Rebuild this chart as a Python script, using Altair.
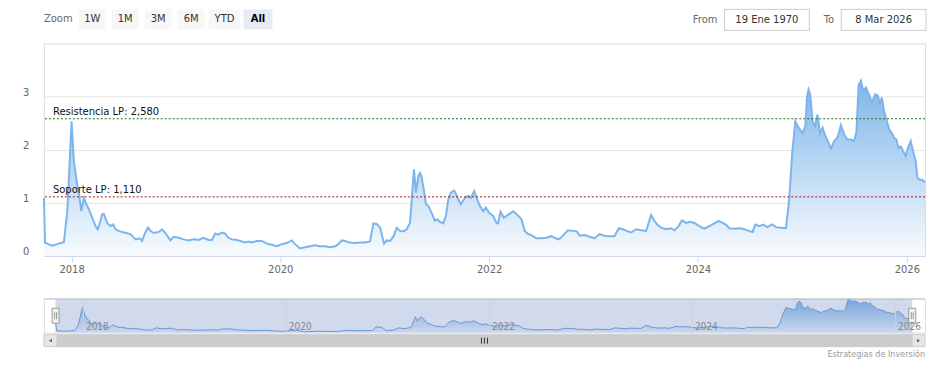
import altair as alt
import pandas as pd

# ---------------- data ----------------
T_DEC = [
    2017.735, 2017.745, 2017.768, 2017.815, 2017.863, 2017.911, 2017.926, 2017.959,
    2018.000, 2018.022, 2018.048, 2018.070, 2018.093, 2018.118, 2018.141, 2018.165, 2018.198, 2018.229,
    2018.251, 2018.277, 2018.293, 2018.309, 2018.341, 2018.373, 2018.399, 2018.421, 2018.452, 2018.485,
    2018.526, 2018.564, 2018.612, 2018.653, 2018.676, 2018.707, 2018.733, 2018.755, 2018.787, 2018.835,
    2018.867, 2018.899, 2018.930, 2018.946, 2018.978,
    2019.026, 2019.074, 2019.121, 2019.169, 2019.217, 2019.265, 2019.313, 2019.345, 2019.377, 2019.408,
    2019.441, 2019.472, 2019.504, 2019.536, 2019.584, 2019.616, 2019.663, 2019.695, 2019.728, 2019.775,
    2019.823, 2019.871, 2019.919, 2019.967,
    2020.014, 2020.062, 2020.110, 2020.141, 2020.189, 2020.237, 2020.285, 2020.333, 2020.380, 2020.428,
    2020.476, 2020.524, 2020.555, 2020.588, 2020.620, 2020.661, 2020.715, 2020.763, 2020.811, 2020.858,
    2020.890, 2020.923, 2020.954, 2020.992,
    2021.018, 2021.050, 2021.081, 2021.114, 2021.145, 2021.177, 2021.209, 2021.241, 2021.263, 2021.279,
    2021.298, 2021.320, 2021.337, 2021.353, 2021.375, 2021.394, 2021.416, 2021.448, 2021.480, 2021.502,
    2021.528, 2021.559, 2021.585, 2021.607, 2021.633, 2021.664, 2021.687, 2021.726, 2021.767, 2021.798,
    2021.824, 2021.856, 2021.879, 2021.910, 2021.942, 2021.967, 2021.999,
    2022.037, 2022.070, 2022.085, 2022.108, 2022.140, 2022.181, 2022.229, 2022.261, 2022.309, 2022.340,
    2022.372, 2022.404, 2022.452, 2022.500, 2022.548, 2022.596, 2022.627, 2022.668, 2022.707, 2022.754,
    2022.802, 2022.840, 2022.866, 2022.914, 2022.962,
    2023.010, 2023.057, 2023.105, 2023.153, 2023.201, 2023.242, 2023.280, 2023.328, 2023.360, 2023.408,
    2023.456, 2023.504, 2023.552, 2023.583, 2023.615, 2023.647, 2023.695, 2023.743, 2023.774, 2023.815,
    2023.848, 2023.886, 2023.924, 2023.966,
    2024.013, 2024.061, 2024.109, 2024.157, 2024.198, 2024.236, 2024.274, 2024.300, 2024.348, 2024.396,
    2024.444, 2024.485, 2024.523, 2024.549, 2024.587, 2024.625, 2024.666, 2024.708, 2024.747, 2024.794,
    2024.842, 2024.874, 2024.900, 2024.931, 2024.953, 2024.976,
    2025.001, 2025.027, 2025.043, 2025.058, 2025.075, 2025.096, 2025.119, 2025.144, 2025.167, 2025.192,
    2025.208, 2025.240, 2025.272, 2025.304, 2025.336, 2025.368, 2025.400, 2025.431, 2025.464, 2025.495,
    2025.517, 2025.537, 2025.560, 2025.582, 2025.607, 2025.639, 2025.665, 2025.696, 2025.722, 2025.741,
    2025.760, 2025.782, 2025.804, 2025.830, 2025.856, 2025.878, 2025.900, 2025.919, 2025.942, 2025.964,
    2025.990,
    2026.014, 2026.037, 2026.059, 2026.085, 2026.100, 2026.123, 2026.148, 2026.174,
]
VALUES = [
    1.09, 0.25, 0.23, 0.19, 0.22, 0.25, 0.25, 0.84,
    2.53, 1.78, 1.41, 1.19, 0.84, 1.09, 0.97, 0.88, 0.72, 0.56,
    0.50, 0.66, 0.78, 0.79, 0.62, 0.56, 0.59, 0.50, 0.47, 0.45,
    0.43, 0.41, 0.31, 0.33, 0.28, 0.44, 0.53, 0.47, 0.43, 0.45,
    0.50, 0.43, 0.34, 0.29, 0.36,
    0.34, 0.31, 0.29, 0.31, 0.30, 0.34, 0.30, 0.30, 0.42, 0.40,
    0.44, 0.42, 0.34, 0.31, 0.30, 0.28, 0.25, 0.27, 0.25, 0.28,
    0.28, 0.23, 0.21, 0.18,
    0.22, 0.24, 0.29, 0.22, 0.14, 0.16, 0.18, 0.20, 0.18, 0.18,
    0.16, 0.18, 0.22, 0.29, 0.28, 0.25, 0.24, 0.25, 0.25, 0.27,
    0.61, 0.60, 0.53, 0.23,
    0.29, 0.28, 0.36, 0.53, 0.47, 0.46, 0.50, 0.62, 1.22, 1.63,
    1.19, 1.50, 1.56, 1.47, 1.22, 0.97, 0.94, 0.81, 0.66, 0.69,
    0.64, 0.61, 0.75, 1.06, 1.19, 1.23, 1.14, 0.97, 1.09, 1.13,
    1.09, 1.22, 1.09, 0.94, 0.84, 0.91, 0.81,
    0.75, 0.62, 0.61, 0.83, 0.72, 0.77, 0.84, 0.79, 0.69, 0.47,
    0.41, 0.39, 0.33, 0.33, 0.34, 0.37, 0.34, 0.31, 0.38, 0.48,
    0.47, 0.46, 0.38, 0.39, 0.36,
    0.33, 0.41, 0.38, 0.37, 0.37, 0.52, 0.50, 0.46, 0.44, 0.50,
    0.48, 0.47, 0.77, 0.66, 0.58, 0.53, 0.50, 0.52, 0.48, 0.56,
    0.67, 0.62, 0.64, 0.62,
    0.56, 0.51, 0.56, 0.61, 0.66, 0.62, 0.58, 0.52, 0.51, 0.52,
    0.50, 0.47, 0.45, 0.59, 0.56, 0.59, 0.54, 0.59, 0.54, 0.53,
    0.52, 1.09, 1.91, 2.53, 2.44, 2.38,
    2.31, 2.44, 3.00, 3.13, 3.03, 2.53, 2.44, 2.66, 2.31, 2.41,
    2.31, 2.17, 2.02, 2.16, 2.23, 2.46, 2.28, 2.19, 2.19, 2.16,
    2.34, 3.22, 3.30, 3.10, 3.17, 3.03, 2.88, 3.04, 3.02, 2.86,
    2.98, 2.72, 2.56, 2.38, 2.31, 2.22, 2.19, 2.03, 2.06, 1.97,
    1.88,
    2.05, 2.16, 1.97, 1.78, 1.47, 1.43, 1.43, 1.38,
]
LEVELS = [2.58, 1.11]
LEVEL_LABELS = ["Resistencia LP: 2,580", "Soporte LP: 1,110"]
LEVEL_COLORS = ["#1f6f1f", "#9b1c1c"]
Y_TICKS = [0, 1, 2, 3, 4]
X_TICK_YEARS = [2018, 2020, 2022, 2024, 2026]
BUTTON_LABELS = ["1W", "1M", "3M", "6M", "YTD", "All"]
SELECTED_BUTTON = "All"
FROM_LABEL, TO_LABEL = "From", "To"
FROM_DATE, TO_DATE = "19 Ene 1970", "8 Mar 2026"
CREDIT = "Estrategias de Inversión"
NAV_RANGE = [2017.62, 2026.30]

# ---------------- helpers ----------------
def dec_to_ts(y):
    yr = int(y // 1)
    start = pd.Timestamp(yr, 1, 1)
    end = pd.Timestamp(yr + 1, 1, 1)
    return (start + (end - start) * (y - yr)).floor("min")


def to_dt(ts):
    return alt.DateTime(year=ts.year, month=ts.month, date=ts.day,
                        hours=ts.hour, minutes=ts.minute)


df = pd.DataFrame({"date": [dec_to_ts(t) for t in T_DEC], "value": VALUES})
levels_df = pd.DataFrame({"level": LEVELS, "label": LEVEL_LABELS, "color": LEVEL_COLORS})
ext_df = pd.DataFrame({"start": [df["date"].min()], "end": [df["date"].max()]})
one = pd.DataFrame({"k": [0]})

W, H = 883, 213
NAV_H = 34
FONT = "DejaVu Sans"
LINE_COLOR = "#7cb5ec"

tick_vals = [alt.DateTime(year=y, month=1, date=1) for y in X_TICK_YEARS]

grad_main = alt.Gradient(
    gradient="linear",
    stops=[alt.GradientStop(color="#7fb5e9", offset=0),
           alt.GradientStop(color="#f8fbfe", offset=1)],
    x1=1, x2=1, y1=0, y2=1,
)

x_main = alt.X(
    "date:T",
    scale=alt.Scale(domain=[to_dt(df["date"].min()), to_dt(df["date"].max())], nice=False),
    axis=alt.Axis(values=tick_vals, format="%Y", title=None, grid=False,
                  domainColor="#ccd6eb", tickColor="#ccd6eb", tickSize=6,
                  labelColor="#666666", labelFont=FONT, labelFontSize=10,
                  labelPadding=3, labelFlush=False),
)
y_main = alt.Y(
    "value:Q",
    scale=alt.Scale(domain=[0, 4], nice=False, zero=True),
    axis=alt.Axis(values=Y_TICKS, format="d", title=None, grid=True, gridColor="#e6e6e6",
                  domain=False, ticks=False, labelPadding=15, labelColor="#666666",
                  labelFont=FONT, labelFontSize=10, labelBaseline="alphabetic",
                  labelOffset=-1,
                  labelExpr="datum.value == 4 ? '' : datum.label"),
)

area = alt.Chart(df).mark_area(color=grad_main).encode(x=x_main, y=y_main)
line = alt.Chart(df).mark_line(color=LINE_COLOR, strokeWidth=2).encode(x="date:T", y="value:Q")

rules = alt.Chart(levels_df).mark_rule(strokeDash=[2, 2], strokeWidth=1).encode(
    y="level:Q", color=alt.Color("color:N", scale=None))
rule_text = alt.Chart(levels_df).mark_text(
    align="left", baseline="alphabetic", dx=9, dy=-4, font=FONT, fontSize=10, color="#111111"
).encode(x=alt.value(0), y="level:Q", text="label:N")

# ---- range selector (chart chrome) ----
ui = []
ui.append(alt.Chart(one).mark_text(align="left", baseline="middle", font=FONT, fontSize=10,
                                   color="#666666").encode(
    x=alt.value(0), y=alt.value(-24), text=alt.value("Zoom")))
btn_x = [(35, 62), (68, 95), (101, 128), (134, 161), (165, 197), (200, 229)]
for lab, (a, b) in zip(BUTTON_LABELS, btn_x):
    sel = lab == SELECTED_BUTTON
    ui.append(alt.Chart(one).mark_rect(fill="#e6ebf5" if sel else "#f7f7f7").encode(
        x=alt.value(a), x2=alt.value(b), y=alt.value(-34), y2=alt.value(-14)))
    ui.append(alt.Chart(one).mark_text(align="center", baseline="middle", font=FONT, fontSize=10,
                                       fontWeight="bold" if sel else "normal",
                                       color="#000000" if sel else "#333333").encode(
        x=alt.value((a + b) / 2), y=alt.value(-24), text=alt.value(lab)))
for lab, txt, (a, b) in [(FROM_LABEL, FROM_DATE, (682, 767)), (TO_LABEL, TO_DATE, (799, 884))]:
    ui.append(alt.Chart(one).mark_text(align="right", baseline="middle", font=FONT, fontSize=10,
                                       color="#666666").encode(
        x=alt.value(a - 7), y=alt.value(-23), text=alt.value(lab)))
    ui.append(alt.Chart(one).mark_rect(fill="#ffffff", stroke="#cccccc", strokeWidth=1).encode(
        x=alt.value(a), x2=alt.value(b), y=alt.value(-34), y2=alt.value(-13)))
    ui.append(alt.Chart(one).mark_text(align="center", baseline="middle", font=FONT, fontSize=10,
                                       color="#333333").encode(
        x=alt.value((a + b) / 2), y=alt.value(-23), text=alt.value(txt)))

main = alt.layer(area, line, rules, rule_text, *ui).properties(width=W, height=H)

# ---------------- navigator ----------------
x_nav = alt.X(
    "date:T",
    scale=alt.Scale(domain=[to_dt(dec_to_ts(NAV_RANGE[0])), to_dt(dec_to_ts(NAV_RANGE[1]))], nice=False),
    axis=alt.Axis(values=tick_vals, format="%Y", title=None, grid=True, gridColor="#d0d0d0",
                  domain=False, ticks=False, tickSize=0, labelAlign="left",
                  labelBaseline="alphabetic", labelPadding=-3, labelOffset=3,
                  labelColor="#888888", labelFont="DejaVu Sans Condensed", labelFontSize=10,
                  labelFlush=False, zindex=1),
)
y_nav = alt.Y("value:Q", scale=alt.Scale(domain=[0.05, 3.38], nice=False, zero=False), axis=None)

nav_area = alt.Chart(df).mark_area(color=grad_main, clip=True).encode(x=x_nav, y=y_nav)
nav_line = alt.Chart(df).mark_line(color="#6a9fd8", strokeWidth=1, clip=True).encode(
    x="date:T", y="value:Q")
nav_mask = alt.Chart(ext_df).mark_rect(color="#6685c2", opacity=0.3).encode(
    x="start:T", x2="end:T")
nav_outline = alt.Chart(one).mark_rule(color="#cccccc", strokeWidth=1).encode(
    x=alt.value(0), x2=alt.value(W), y=alt.value(0))
HANDLE = "M-0.467,-1L0.467,-1L0.467,1L-0.467,1Z M-0.13,-0.47L-0.13,0.47 M0.13,-0.47L0.13,0.47"
handles = [
    alt.Chart(ext_df).mark_point(shape=HANDLE, size=225, filled=True, fill="#f2f2f2",
                                 stroke="#999999", strokeWidth=1, opacity=1).encode(
        x=f"{c}:T", y=alt.value(NAV_H / 2))
    for c in ("start", "end")
]
# scrollbar (chart chrome)
sb = [
    alt.Chart(one).mark_rect(fill="#f2f2f2").encode(
        x=alt.value(0), x2=alt.value(W), y=alt.value(36), y2=alt.value(48)),
    alt.Chart(one).mark_rect(fill="#cccccc", stroke="#cccccc").encode(
        x=alt.value(13), x2=alt.value(W - 13), y=alt.value(36), y2=alt.value(48)),
    alt.Chart(one).mark_rect(fill="#e6e6e6", stroke="#cccccc").encode(
        x=alt.value(0), x2=alt.value(13), y=alt.value(36), y2=alt.value(48)),
    alt.Chart(one).mark_rect(fill="#e6e6e6", stroke="#cccccc").encode(
        x=alt.value(W - 13), x2=alt.value(W), y=alt.value(36), y2=alt.value(48)),
    alt.Chart(one).mark_point(shape="triangle-left", size=14, filled=True, color="#333333").encode(
        x=alt.value(6.5), y=alt.value(42)),
    alt.Chart(one).mark_point(shape="triangle-right", size=14, filled=True, color="#333333").encode(
        x=alt.value(W - 6.5), y=alt.value(42)),
]
for dx in (-3, 0, 3):
    sb.append(alt.Chart(one).mark_rule(color="#333333", strokeWidth=1).encode(
        x=alt.value(W / 2 + dx), y=alt.value(39), y2=alt.value(45)))
credit = alt.Chart(one).mark_text(align="right", baseline="middle", font="DejaVu Sans Condensed",
                                  fontSize=9, color="#999999").encode(
    x=alt.value(W), y=alt.value(55), text=alt.value(CREDIT))

nav = alt.layer(nav_area, nav_line, nav_mask, nav_outline, *handles, *sb, credit).properties(
    width=W, height=NAV_H)

chart = alt.vconcat(main, nav, spacing=43, bounds="flush").properties(
    padding={"left": 14, "top": 0, "right": 5, "bottom": 5},
).configure_view(stroke=None).configure(background="#ffffff")

chart.save("out.html", embed_options={"renderer": "svg", "actions": False})
